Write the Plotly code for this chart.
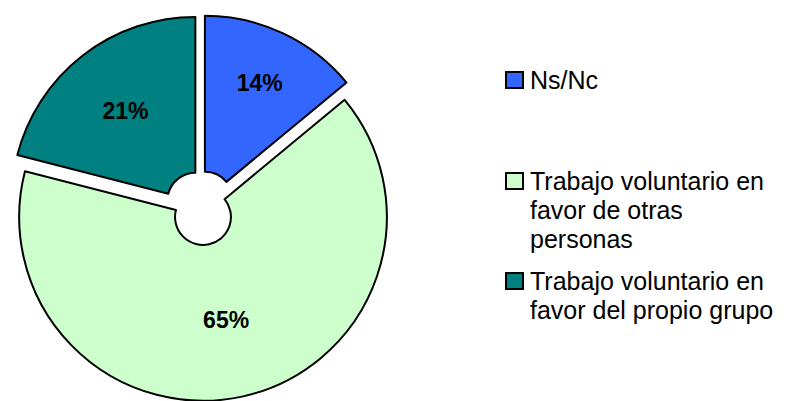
import plotly.graph_objects as go

# datos del grafico
labels = ['Ns/Nc',
          'Trabajo voluntario en favor de otras personas',
          'Trabajo voluntario en favor del propio grupo']
legend_text = ['Ns/Nc',
               'Trabajo voluntario en<br>favor de otras<br>personas',
               'Trabajo voluntario en<br>favor del propio grupo']
values = [14, 65, 21]
colors = ['#3366FF', '#CCFFCC', '#008080']

# la pagina tiene 8px de margen en body, asi que la figura es 8px mas chica
W, H = 783, 393

fig = go.Figure()
fig.add_trace(go.Pie(
    labels=labels,
    values=values,
    sort=False,
    direction='clockwise',
    rotation=0,
    hole=0.152,
    pull=[0.05, 0.05, 0.05],
    marker=dict(colors=colors, line=dict(color='black', width=2)),
    texttemplate='%{value}%',
    textposition='inside',
    insidetextorientation='horizontal',
    textfont=dict(family='Arial, Liberation Sans', size=23, color='black', weight='bold'),
    domain=dict(x=[0, 386 / W], y=[0, 386 / H]),
    showlegend=False,
    hoverinfo='label+percent',
))

# leyenda a mano (el espaciado no es uniforme), una anotacion por renglon
legend_y = [72, 173, 273]
line_gap = 29
for txt, col, yc in zip(legend_text, colors, legend_y):
    fig.add_shape(type='rect', xref='paper', yref='paper',
                  x0=498 / W, x1=515 / W, y0=1 - (yc + 8) / H, y1=1 - (yc - 8) / H,
                  fillcolor=col, line=dict(color='black', width=2))
    for i, line in enumerate(txt.split('<br>')):
        fig.add_annotation(xref='paper', yref='paper', x=520 / W,
                           y=1 - (yc - 16 + i * line_gap) / H,
                           xanchor='left', yanchor='top', showarrow=False,
                           text=line, font=dict(family='Arial, Liberation Sans', size=25, color='black'))

fig.update_layout(
    width=W, height=H,
    margin=dict(l=0, r=0, t=0, b=0),
    paper_bgcolor='white',
    plot_bgcolor='white',
)

fig.write_html('out.html')
